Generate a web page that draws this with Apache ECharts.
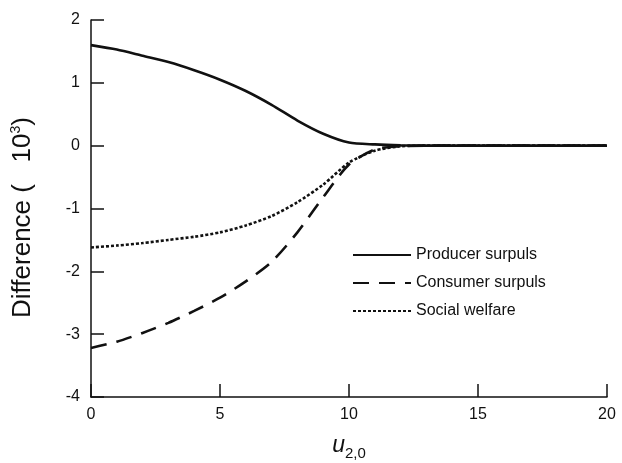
<!DOCTYPE html>
<html>
<head>
<meta charset="utf-8">
<script src="https://cdn.jsdelivr.net/npm/echarts@6/dist/echarts.min.js"></script>
<style>
  html, body { margin: 0; padding: 0; background: #fff; }
  #chart { width: 622px; height: 463px; }
</style>
</head>
<body>
<div id="chart"></div>
<script>
// Initial hosting-cost parameter u_{2,0}
const uValues = [0, 1, 2, 3, 4, 5, 6, 7, 8, 9, 10, 11, 12, 13, 14, 15, 16, 17, 18, 19, 20];
// Differences, in thousands
const producerSurplus = [1.60, 1.53, 1.43, 1.33, 1.20, 1.05, 0.87, 0.65, 0.40, 0.19, 0.05, 0.02, 0.005, 0, 0, 0, 0, 0, 0, 0, 0];
const consumerSurplus = [-3.22, -3.12, -2.98, -2.82, -2.63, -2.42, -2.16, -1.85, -1.38, -0.82, -0.30, -0.06, -0.01, 0, 0, 0, 0, 0, 0, 0, 0];
const socialWelfare = [-1.62, -1.59, -1.55, -1.50, -1.45, -1.38, -1.27, -1.12, -0.90, -0.62, -0.27, -0.08, -0.01, 0, 0, 0, 0, 0, 0, 0, 0];
const seriesNames = ['Producer surpuls', 'Consumer surpuls', 'Social welfare'];

const font = 'Liberation Sans, Arial, sans-serif';
const pairs = ys => uValues.map((u, i) => [u, ys[i]]);

const chart = echarts.init(document.getElementById('chart'), null, { renderer: 'canvas' });

function lineSeries(name, ys, type) {
  return {
    name: name,
    type: 'line',
    data: pairs(ys),
    symbol: 'none',
    smooth: 0.25,
    lineStyle: { color: '#111', width: 2.6, type: type, cap: 'butt' },
    itemStyle: { color: '#111' },
    emphasis: { disabled: true }
  };
}

chart.setOption({
  animation: false,
  grid: { left: 91, right: 15, top: 20, bottom: 66, containLabel: false, outerBoundsMode: 'none' },
  legend: {
    orient: 'vertical',
    left: 347,
    top: 242,
    itemWidth: 58,
    itemHeight: 14,
    itemGap: 12,
    data: seriesNames,
    itemStyle: { opacity: 0 },
    textStyle: { fontFamily: font, fontSize: 16, color: '#111' }
  },
  xAxis: {
    type: 'value',
    min: 0, max: 20, interval: 5,
    name: '{u|u}{s|2,0}',
    nameLocation: 'middle',
    nameGap: 33,
    nameTextStyle: {
      rich: {
        u: { fontFamily: font, fontSize: 23, fontStyle: 'italic', color: '#111' },
        s: { fontFamily: font, fontSize: 15, color: '#111', padding: [16, 0, 0, 0] }
      }
    },
    axisLine: { show: true, onZero: false, lineStyle: { color: '#111', width: 1.5 } },
    axisTick: { show: true, inside: true, length: 13, lineStyle: { color: '#111', width: 1.5 } },
    axisLabel: { fontFamily: font, fontSize: 16, color: '#111', margin: 10 },
    splitLine: { show: false }
  },
  yAxis: {
    type: 'value',
    min: -4, max: 2, interval: 1,
    name: '{t|Difference (   10}{p|3}{e|)}',
    nameLocation: 'middle',
    nameGap: 54,
    nameRotate: 90,
    nameTextStyle: {
      rich: {
        t: { fontFamily: font, fontSize: 26, color: '#111' },
        p: { fontFamily: font, fontSize: 14, color: '#111', padding: [0, 0, 14, 0] },
        e: { fontFamily: font, fontSize: 26, color: '#111', padding: [0, 18, 0, 0] }
      }
    },
    axisLine: { show: true, onZero: false, lineStyle: { color: '#111', width: 1.5 } },
    axisTick: { show: true, inside: true, length: 13, lineStyle: { color: '#111', width: 1.5 } },
    axisLabel: { fontFamily: font, fontSize: 16, color: '#111', margin: 11 },
    splitLine: { show: false }
  },
  series: [
    lineSeries(seriesNames[0], producerSurplus, 'solid'),
    lineSeries(seriesNames[1], consumerSurplus, [16, 10]),
    lineSeries(seriesNames[2], socialWelfare, [3, 2])
  ]
});
</script>
</body>
</html>
